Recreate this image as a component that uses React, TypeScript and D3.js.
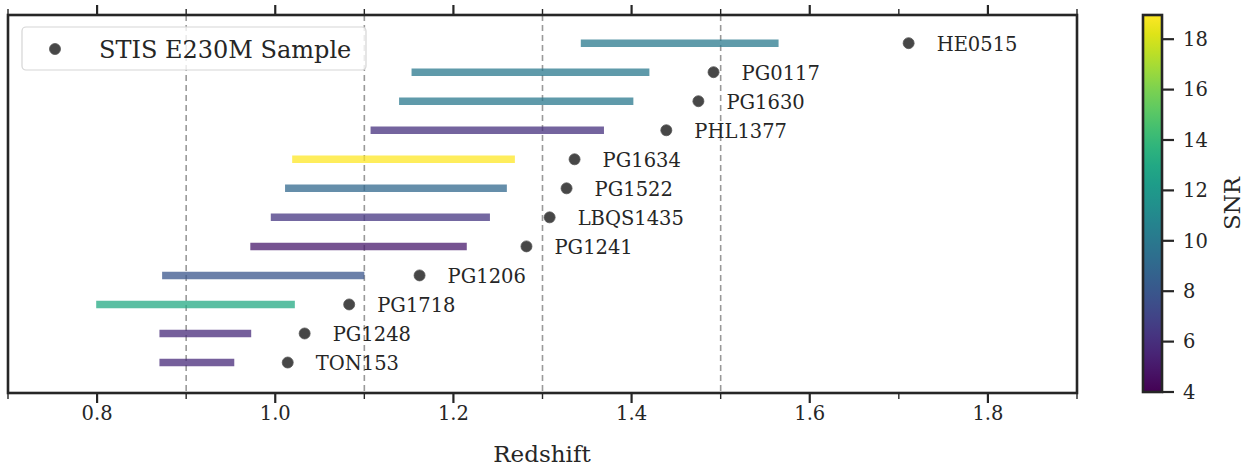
import React from "react";
import * as d3 from "d3";

// Sightlines, bottom to top
const names = ["TON153", "PG1248", "PG1718", "PG1206", "PG1241", "LBQS1435", "PG1522", "PG1634", "PHL1377", "PG1630", "PG0117", "HE0515"];
const zQso = [1.014, 1.033, 1.083, 1.162, 1.282, 1.308, 1.327, 1.336, 1.439, 1.475, 1.492, 1.711];
const zMin = [0.870, 0.870, 0.799, 0.873, 0.972, 0.995, 1.011, 1.019, 1.107, 1.139, 1.153, 1.343];
const zMax = [0.954, 0.973, 1.022, 1.100, 1.215, 1.241, 1.260, 1.269, 1.369, 1.402, 1.420, 1.565];
const snr = [5.8, 5.8, 13.0, 8.0, 5.0, 6.3, 9.0, 18.96, 6.1, 10.0, 10.0, 10.1];

const xTicks = [0.8, 1.0, 1.2, 1.4, 1.6, 1.8];
const xMinor = [0.7, 0.9, 1.1, 1.3, 1.5, 1.7, 1.9];
const guideZ = [0.9, 1.1, 1.3, 1.5];
const cbTicks = [4, 6, 8, 10, 12, 14, 16, 18];

const W = 1250, H = 469;
const L = 8, R = 1077, T = 15, B = 393;
const FONT = "'DejaVu Serif', serif";
const INK = "#262626";

export default function App() {
  const x = d3.scaleLinear().domain([0.7, 1.9]).range([L, R]);
  const y = d3.scaleLinear().domain([-1.05, 11.97]).range([B, T]);
  const snrDomain: [number, number] = [4, 18.96];
  const color = d3.scaleSequential(d3.interpolateViridis).domain(snrDomain);
  const cbX = 1143, cbW = 19;
  const cbY = d3.scaleLinear().domain(snrDomain).range([392, 15]);
  const stops = d3.range(0, 1.0001, 0.05);

  return (
    <svg width={W} height={H} style={{ position: "absolute", left: 0, top: 0, background: "#fff" }} fontFamily={FONT}>
      <defs>
        <linearGradient id="viridisBar" x1="0" y1="1" x2="0" y2="0">
          {stops.map((t) => (
            <stop key={t} offset={`${t * 100}%`} stopColor={d3.interpolateViridis(t)} />
          ))}
        </linearGradient>
      </defs>

      {/* redshift guide lines */}
      {guideZ.map((z) => (
        <line key={z} x1={x(z)} x2={x(z)} y1={T} y2={B} stroke="#999" strokeWidth={1.6} strokeDasharray="6,4" />
      ))}

      {/* coverage ranges coloured by SNR */}
      {names.map((n, i) => (
        <line key={n + "r"} x1={x(zMin[i])} x2={x(zMax[i])} y1={y(i)} y2={y(i)}
          stroke={color(snr[i])} strokeOpacity={0.75} strokeWidth={7.5} />
      ))}

      {/* quasar redshifts */}
      {names.map((n, i) => (
        <g key={n}>
          <circle cx={x(zQso[i])} cy={y(i)} r={5.5} fill="#333" fillOpacity={0.9} stroke="#555" strokeWidth={0.8} />
          <text x={x(zQso[i]) + 28} y={y(i)} dy="0.38em" fontSize={19.5} fill={INK}>{n}</text>
        </g>
      ))}

      {/* legend */}
      <rect x={22} y={27} width={344} height={43} rx={4} fill="#fff" fillOpacity={0.8} stroke="#d5d5d5" strokeWidth={1.2} />
      <circle cx={55} cy={49} r={5.5} fill="#333" fillOpacity={0.9} stroke="#555" strokeWidth={0.8} />
      <text x={99} y={49} dy="0.36em" fontSize={24} fill={INK}>STIS E230M Sample</text>

      {/* frame */}
      <rect x={L} y={T} width={R - L} height={B - T} fill="none" stroke={INK} strokeWidth={2.6} />

      {/* x ticks, bottom and top */}
      {xTicks.map((t) => (
        <g key={t}>
          <line x1={x(t)} x2={x(t)} y1={B} y2={B + 10} stroke={INK} strokeWidth={2.2} />
          <line x1={x(t)} x2={x(t)} y1={T} y2={T - 10} stroke={INK} strokeWidth={2.2} />
          <text x={x(t)} y={413} dy="0.35em" textAnchor="middle" fontSize={19.5} fill={INK}>{t.toFixed(1)}</text>
        </g>
      ))}
      {xMinor.map((t) => (
        <g key={t}>
          <line x1={x(t)} x2={x(t)} y1={B} y2={B + 6} stroke={INK} strokeWidth={1.4} />
          <line x1={x(t)} x2={x(t)} y1={T} y2={T - 6} stroke={INK} strokeWidth={1.4} />
        </g>
      ))}
      <text x={542} y={454} dy="0.35em" textAnchor="middle" fontSize={23} fill={INK}>Redshift</text>

      {/* colour bar */}
      <rect x={cbX} y={cbY(snrDomain[1])} width={cbW} height={cbY(snrDomain[0]) - cbY(snrDomain[1])} fill="url(#viridisBar)" />
      <rect x={cbX} y={cbY(snrDomain[1])} width={cbW} height={cbY(snrDomain[0]) - cbY(snrDomain[1])} fill="none" stroke={INK} strokeWidth={2.6} />
      {cbTicks.map((t) => (
        <g key={t}>
          <line x1={cbX + cbW} x2={cbX + cbW + 12} y1={cbY(t)} y2={cbY(t)} stroke={INK} strokeWidth={2.2} />
          <text x={1183} y={cbY(t)} dy="0.35em" fontSize={19.5} fill={INK}>{t}</text>
        </g>
      ))}
      <text transform={`translate(1232,${(cbY(snrDomain[0]) + cbY(snrDomain[1])) / 2}) rotate(-90)`} dy="0.35em"
        textAnchor="middle" fontSize={23} fill={INK}>SNR</text>
    </svg>
  );
}
